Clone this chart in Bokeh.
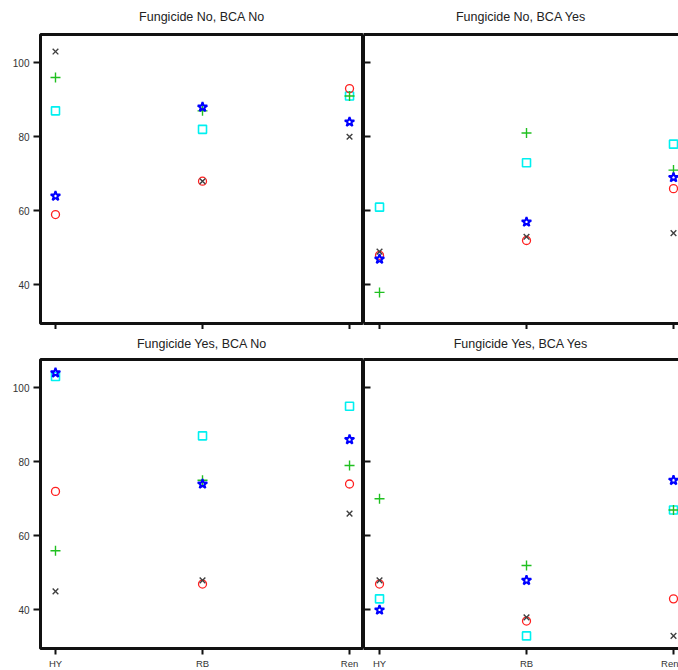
from bokeh.plotting import figure
from bokeh.layouts import column, row
from bokeh.models import Range1d, FixedTicker, LinearAxis
from bokeh.embed import file_html
from bokeh.resources import INLINE

# ---------------- data ----------------
categories = ["HY", "RB", "Ren"]
panel_titles = ["Fungicide No, BCA No", "Fungicide No, BCA Yes",
                "Fungicide Yes, BCA No", "Fungicide Yes, BCA Yes"]
y_ticks = [40, 60, 80, 100]

# one list per panel (HY, RB, Ren), panels in the order of panel_titles
series_x = [[103, 68, 80], [49, 53, 54], [45, 48, 66], [48, 38, 33]]
series_circle = [[59, 68, 93], [48, 52, 66], [72, 47, 74], [47, 37, 43]]
series_plus = [[96, 87, 91], [38, 81, 71], [56, 75, 79], [70, 52, 67]]
series_square = [[87, 82, 91], [61, 73, 78], [103, 87, 95], [43, 33, 67]]
series_star = [[64, 88, 84], [47, 57, 69], [104, 74, 86], [40, 48, 75]]

# ---------------- style ----------------
FONT = "Liberation Sans"
styles = [
    (series_square, "square", "#00f0f0", 8, 1.6),
    (series_circle, "circle", "#ff2020", 8, 1.3),
    (series_x, "x", "#404040", 8, 1.4),
    (series_plus, "cross", "#20c020", 10, 1.4),
    (series_star, "star", "#0000ff", 10, 2.0),
]


def make_panel(k, is_left, is_bottom):
    xpos = [i + 1 for i in range(len(categories))]
    if is_left:
        xr = Range1d(0.898, 3.095)
        fw, mbl = 323, 40
    else:
        xr = Range1d(0.891, 3.034)
        fw, mbl = 315, 0
    mbt = 30 if is_bottom else 34
    mbb = 22 if is_bottom else 6
    p = figure(frame_width=fw, frame_height=289, x_range=xr,
               y_range=Range1d(29.6, 107.6),
               min_border_left=mbl, min_border_right=0,
               min_border_top=mbt, min_border_bottom=mbb,
               output_backend="svg", toolbar_location=None,
               title=panel_titles[k])
    p.xgrid.visible = False
    p.ygrid.visible = False
    p.background_fill_color = "white"
    p.border_fill_color = "white"

    p.title.align = "center"
    p.title.vertical_align = "top"
    p.title.text_font = FONT
    p.title.text_font_size = "12.5px"
    p.title.text_font_style = "normal"
    p.title.text_color = "#222222"
    p.title.standoff = 14 if is_bottom else 18
    if not is_left:
        p.title.offset = 6

    xa = p.xaxis[0]
    xa.ticker = FixedTicker(ticks=xpos)
    if is_bottom:
        xa.major_label_overrides = {x: c for x, c in zip(xpos, categories)}
        xa.major_label_standoff = 3
    else:
        xa.major_label_overrides = {x: "" for x in xpos}
        xa.major_label_standoff = 0
    xa.major_label_text_font = FONT
    xa.major_label_text_font_size = "9.5px"
    xa.major_label_text_color = "#333333"
    xa.major_tick_out = 6
    xa.major_tick_in = 0
    xa.major_tick_line_width = 2
    xa.major_tick_line_color = "#111111"
    xa.minor_tick_line_color = None

    ya = p.yaxis[0]
    ya.ticker = FixedTicker(ticks=y_ticks)
    ya.minor_tick_line_color = None
    ya.major_tick_line_width = 2
    ya.major_tick_line_color = "#111111"
    if is_left:
        ya.major_tick_out = 7
        ya.major_tick_in = 0
        ya.major_label_standoff = 4
        ya.major_label_text_font = FONT
        ya.major_label_text_font_size = "10px"
        ya.major_label_text_color = "#333333"
        xa.axis_line_color = None
        ya.axis_line_color = None
        p.outline_line_color = "#111111"
        p.outline_line_width = 3
    else:
        ya.major_tick_out = 0
        ya.major_tick_in = 7
        ya.major_label_overrides = {t: "" for t in y_ticks}
        ya.major_label_standoff = 0
        ya.axis_line_color = "#111111"
        ya.axis_line_width = 3
        xa.axis_line_color = "#111111"
        xa.axis_line_width = 3
        p.outline_line_color = None
        top = LinearAxis(ticker=FixedTicker(ticks=[]), major_tick_out=0,
                         major_tick_in=0, major_label_standoff=0,
                         axis_line_color="#111111", axis_line_width=3,
                         minor_tick_line_color=None)
        p.add_layout(top, "above")

    for vals, marker, color, size, lw in styles:
        p.scatter(xpos, vals[k], marker=marker, size=size,
                  line_color=color, fill_color=None, line_width=lw)
    return p


p1 = make_panel(0, True, False)
p2 = make_panel(1, False, False)
p3 = make_panel(2, True, True)
p4 = make_panel(3, False, True)

layout = column(row(p1, p2), row(p3, p4))

with open("out.html", "w") as f:
    f.write(file_html(layout, INLINE))
